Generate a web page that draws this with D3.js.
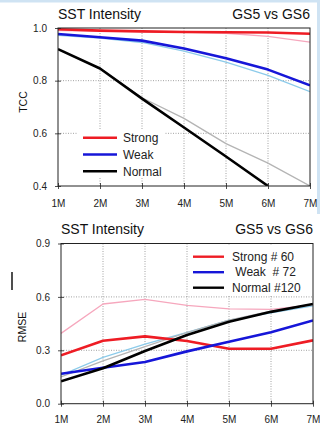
<!DOCTYPE html>
<html>
<head>
<meta charset="utf-8">
<script src="https://cdn.jsdelivr.net/npm/d3@7"></script>
<style>
  html, body { margin: 0; padding: 0; background: #fff; }
  svg { display: block; font-family: "Liberation Sans", Arial, sans-serif; }
</style>
</head>
<body>
<svg id="chart" width="320" height="430"></svg>
<script>
// Lead months
const months = ["1M", "2M", "3M", "4M", "5M", "6M", "7M"];

// TCC (top panel): thick = GS6, thin = GS5
const tccStrong     = [0.995, 0.990, 0.987, 0.985, 0.984, 0.983, 0.978];
const tccWeak       = [0.977, 0.965, 0.952, 0.922, 0.885, 0.842, 0.782];
const tccNormal     = [0.920, 0.846, 0.732, 0.622, 0.512, 0.400, null];
const tccStrongGS5  = [0.990, 0.988, 0.986, 0.984, 0.980, 0.968, 0.946];
const tccWeakGS5    = [0.972, 0.962, 0.945, 0.912, 0.870, 0.820, 0.758];
const tccNormalGS5  = [0.920, 0.846, 0.735, 0.657, 0.561, 0.487, 0.400];
const tccTicks      = [0.4, 0.6, 0.8, 1.0];

// RMSE (bottom panel): thick = GS6, thin = GS5
const rmseStrong    = [0.272, 0.354, 0.378, 0.352, 0.309, 0.309, 0.356];
const rmseWeak      = [0.168, 0.202, 0.234, 0.294, 0.348, 0.402, 0.468];
const rmseNormal    = [0.126, 0.199, 0.296, 0.386, 0.460, 0.516, 0.560];
const rmseStrongGS5 = [0.395, 0.560, 0.586, 0.552, 0.533, 0.530, 0.555];
const rmseWeakGS5   = [0.160, 0.260, 0.335, 0.400, 0.470, 0.510, 0.550];
const rmseNormalGS5 = [0.150, 0.240, 0.320, 0.400, 0.470, 0.520, 0.560];
const rmseTicks     = [0.0, 0.3, 0.6, 0.9];

const topLegend = ["Strong", "Weak", "Normal"];
const botLegend = ["Strong # 60", " Weak  # 72", "Normal #120"];

const RED = "#ee1c24", BLUE = "#1616d8", BLACK = "#000";
const PINK = "#f6a7bd", LBLUE = "#8ccbea", GRAY = "#b4b4b4";

const svg = d3.select("#chart");

// light blue edge strips along the top and right of the upper panel
svg.append("rect").attr("x", 0).attr("y", 0).attr("width", 320).attr("height", 2.5).attr("fill", "#cfe3f3");
svg.append("rect").attr("x", 317).attr("y", 0).attr("width", 3).attr("height", 214).attr("fill", "#cfe3f3");

function panel(opt) {
  const { left, right, top, bottom, domain, ticks, fmt } = opt;
  const x = d3.scalePoint().domain(months).range([left, right]);
  const y = d3.scaleLinear().domain(domain).range([bottom, top]);
  const g = svg.append("g");
  const clipId = "clip" + Math.round(top);
  svg.append("clipPath").attr("id", clipId).append("rect")
    .attr("x", left).attr("y", top).attr("width", right - left).attr("height", bottom - top);

  // dotted grid
  const grid = g.append("g").attr("stroke", "#8a8a8a").attr("stroke-width", 0.8)
    .attr("stroke-dasharray", "1,1.5");
  months.slice(1, -1).forEach(m => {
    grid.append("line").attr("x1", x(m)).attr("x2", x(m)).attr("y1", top).attr("y2", bottom);
  });
  ticks.slice(1, -1).forEach(v => {
    grid.append("line").attr("x1", left).attr("x2", right).attr("y1", y(v)).attr("y2", y(v));
  });

  // legend background hides the grid under the key
  g.append("rect").attr("x", opt.legBox[0]).attr("y", opt.legBox[1])
    .attr("width", opt.legBox[2]).attr("height", opt.legBox[3]).attr("fill", "#fff");

  const line = d3.line().defined(d => d != null)
    .x((d, i) => x(months[i])).y(d => y(d));
  const lines = g.append("g").attr("clip-path", `url(#${clipId})`).attr("fill", "none")
    .attr("stroke-linejoin", "round");
  opt.thin.forEach(s => {
    lines.append("path").datum(s.data).attr("d", line).attr("stroke", s.color).attr("stroke-width", 1.3);
  });
  opt.thick.forEach(s => {
    lines.append("path").datum(s.data).attr("d", line).attr("stroke", s.color).attr("stroke-width", 2.6);
  });

  // axes
  const xAxis = d3.axisBottom(x).tickSize(3).tickPadding(opt.xPad);
  const gx = g.append("g").attr("transform", `translate(0,${bottom})`).call(xAxis);
  const yAxis = d3.axisLeft(y).tickValues(ticks).tickFormat(fmt).tickSize(3).tickPadding(8);
  const gy = g.append("g").attr("transform", `translate(${left},0)`).call(yAxis);
  [gx, gy].forEach(a => {
    a.select(".domain").remove();
    a.selectAll("line").attr("stroke", "#222").attr("stroke-width", 0.8);
    a.selectAll("text").attr("font-size", 10).attr("fill", "#222")
      .attr("font-family", "Liberation Sans, Arial, sans-serif");
  });
  gx.selectAll("line").attr("y1", -3).attr("y2", 3);
  gy.selectAll("line").attr("x1", -3).attr("x2", 3);

  // frame
  g.append("rect").attr("x", left).attr("y", top).attr("width", right - left).attr("height", bottom - top)
    .attr("fill", "none").attr("stroke", "#222").attr("stroke-width", 1);

  // titles
  g.append("text").attr("x", left).attr("y", top - 9.5).attr("font-size", 14).attr("fill", "#111")
    .text("SST Intensity");
  g.append("text").attr("x", right).attr("y", top - 9.5).attr("font-size", 14).attr("fill", "#111")
    .attr("text-anchor", "end").text("GS5 vs GS6");
  g.append("text").attr("transform", `translate(${opt.yTitleX},${opt.yTitleY}) rotate(-90)`)
    .attr("text-anchor", "middle").attr("font-size", 10.5).attr("fill", "#111").text(opt.yTitle);

  // legend
  const [lx0, lx1, tx, ly0, dy] = opt.leg;
  opt.legLabels.forEach((lab, i) => {
    const yy = ly0 + i * dy;
    g.append("line").attr("x1", lx0).attr("x2", lx1).attr("y1", yy).attr("y2", yy)
      .attr("stroke", opt.thick[i].color).attr("stroke-width", 2.4);
    g.append("text").attr("x", tx).attr("y", yy + 4.2).attr("font-size", 12).attr("fill", "#222")
      .attr("xml:space", "preserve").style("white-space", "pre").text(lab);
  });
}

panel({
  left: 58, right: 310, top: 28, bottom: 186,
  domain: [0.4, 1.0], ticks: tccTicks, fmt: d3.format(".1f"),
  yTitle: "TCC", yTitleX: 27, yTitleY: 102, xPad: 11,
  thin: [
    { data: tccStrongGS5, color: PINK },
    { data: tccWeakGS5, color: LBLUE },
    { data: tccNormalGS5, color: GRAY }
  ],
  thick: [
    { data: tccStrong, color: RED },
    { data: tccWeak, color: BLUE },
    { data: tccNormal, color: BLACK }
  ],
  legLabels: topLegend,
  leg: [83, 117, 123, 137.7, 16.8],
  legBox: [78, 130, 86, 47]
});

panel({
  left: 61, right: 313, top: 243.5, bottom: 403.7,
  domain: [0, 0.9], ticks: rmseTicks, fmt: d3.format(".1f"),
  yTitle: "RMSE", yTitleX: 26, yTitleY: 327, xPad: 9,
  thin: [
    { data: rmseStrongGS5, color: PINK },
    { data: rmseWeakGS5, color: LBLUE },
    { data: rmseNormalGS5, color: GRAY }
  ],
  thick: [
    { data: rmseStrong, color: RED },
    { data: rmseWeak, color: BLUE },
    { data: rmseNormal, color: BLACK }
  ],
  legLabels: botLegend,
  leg: [193, 224, 232, 256.7, 15.5],
  legBox: [188, 246, 124, 49]
});

// short vertical stroke left of the lower panel
svg.append("line").attr("x1", 12).attr("x2", 12).attr("y1", 272).attr("y2", 290)
  .attr("stroke", "#222").attr("stroke-width", 1.6);
</script>
</body>
</html>
